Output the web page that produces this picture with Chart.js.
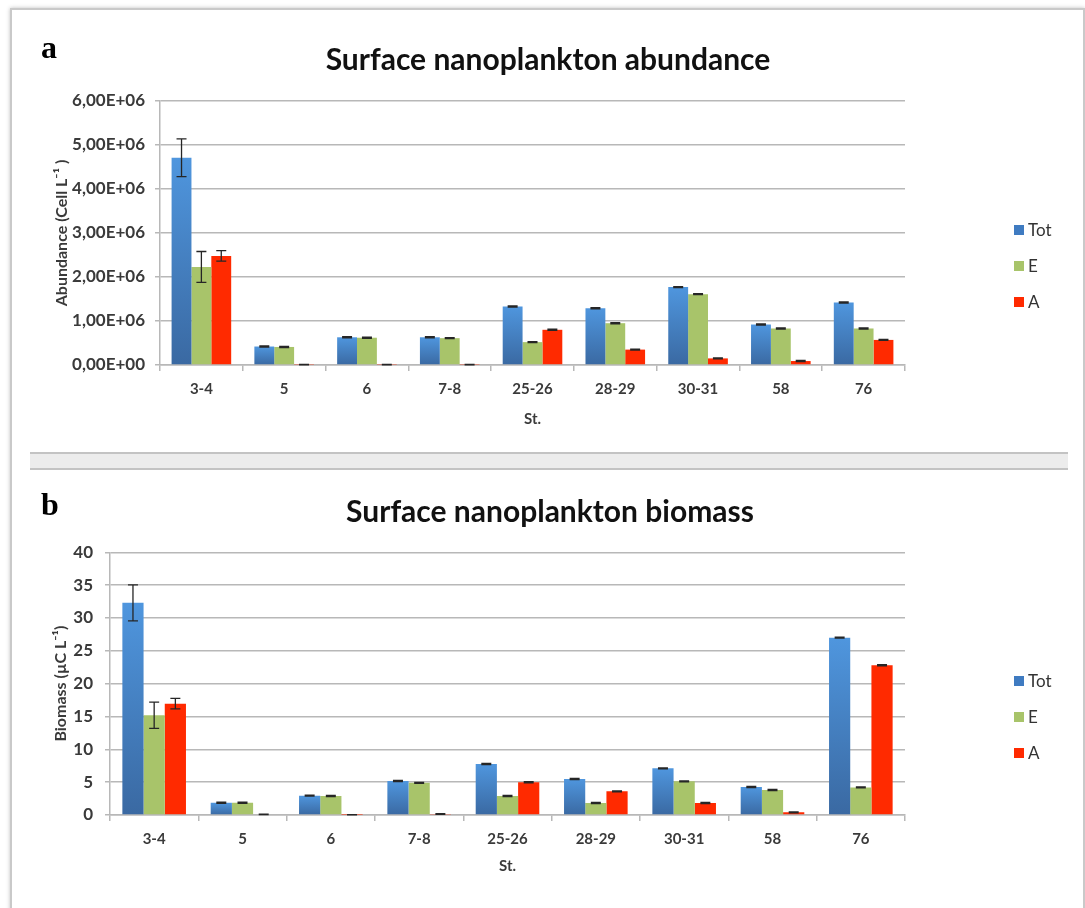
<!DOCTYPE html>
<html>
<head>
<meta charset="utf-8">
<script src="https://cdn.jsdelivr.net/npm/chart.js@4.4.0/dist/chart.umd.min.js"></script>
<style>
  body { margin: 0; width: 1085px; height: 908px; overflow: hidden; position: relative; background: #fff; }
  #frame { position: absolute; left: 10px; top: 8px; width: 1071px; height: 930px; border: 2px solid #c9c9c9; box-shadow: 0 0 4px rgba(0,0,0,0.25); }
  #sep { position: absolute; left: 30px; top: 452px; width: 1038px; height: 14px; background: #ececec; border-top: 2px solid #c3c3c3; border-bottom: 2px solid #c3c3c3; }
  .tag { position: absolute; left: 41px; font: bold 32px "Liberation Serif", serif; line-height: 32px; color: #000; }
  .wrap { position: absolute; left: 0; width: 1085px; }
</style>
</head>
<body>
<div id="frame"></div>
<div id="sep"></div>
<div class="wrap" style="top:0;height:450px"><canvas id="abundance"></canvas></div>
<div class="wrap" style="top:470px;height:438px"><canvas id="biomass"></canvas></div>
<div class="tag" style="top:31px">a</div>
<div class="tag" style="top:488px">b</div>
<script>
// stations (x categories) and series names
const stations = ['3-4', '5', '6', '7-8', '25-26', '28-29', '30-31', '58', '76'];
const seriesNames = ['Tot', 'E', 'A'];

// a - abundance (cell/L)
const abTot = [4.71e6, 0.42e6, 0.63e6, 0.63e6, 1.33e6, 1.29e6, 1.77e6, 0.92e6, 1.42e6];
const abE   = [2.23e6, 0.41e6, 0.62e6, 0.61e6, 0.52e6, 0.95e6, 1.61e6, 0.83e6, 0.83e6];
const abA   = [2.48e6, 0.01e6, 0.01e6, 0.01e6, 0.80e6, 0.35e6, 0.15e6, 0.09e6, 0.57e6];
const abTotErr = [0.43e6, 0.012e6, 0.012e6, 0.012e6, 0.012e6, 0.012e6, 0.012e6, 0.012e6, 0.012e6];
const abEErr   = [0.35e6, 0.012e6, 0.012e6, 0.012e6, 0.012e6, 0.012e6, 0.012e6, 0.012e6, 0.012e6];
const abAErr   = [0.12e6, 0.005e6, 0.005e6, 0.005e6, 0.012e6, 0.012e6, 0.012e6, 0.012e6, 0.012e6];
const abTicks = ['0,00E+00', '1,00E+06', '2,00E+06', '3,00E+06', '4,00E+06', '5,00E+06', '6,00E+06'];

// b - biomass (µC/L)
const bmTot = [32.3, 1.87, 2.94, 5.17, 7.76, 5.48, 7.10, 4.26, 27.0];
const bmE   = [15.2, 1.87, 2.90, 4.90, 2.90, 1.83, 5.13, 3.80, 4.20];
const bmA   = [16.95, 0.10, 0.05, 0.15, 4.98, 3.60, 1.83, 0.40, 22.8];
const bmTotErr = [2.75, 0.08, 0.08, 0.08, 0.08, 0.08, 0.08, 0.08, 0.08];
const bmEErr   = [2.0, 0.08, 0.08, 0.08, 0.08, 0.08, 0.08, 0.08, 0.08];
const bmAErr   = [0.8, 0.04, 0.02, 0.04, 0.08, 0.08, 0.08, 0.08, 0.08];
const bmTicks = ['0', '5', '10', '15', '20', '25', '30', '35', '40'];

Chart.defaults.font.family = 'Lato, "Open Sans", sans-serif';
Chart.defaults.color = '#3a3a3a';

// blue bars get a light->dark vertical gradient, one per bar
function totFill(ctx) {
  const chart = ctx.chart;
  const y = chart.scales.y;
  if (!chart.chartArea || !y || ctx.type !== 'data') return '#4785cc';
  const top = y.getPixelForValue(ctx.raw);
  const bottom = y.getPixelForValue(0);
  if (!isFinite(top) || bottom - top < 2) return '#4785cc';
  const g = chart.ctx.createLinearGradient(0, top, 0, bottom);
  g.addColorStop(0, '#4f96de');
  g.addColorStop(1, '#3a69a2');
  return g;
}

// error bars from dataset.errors
const errorBars = {
  id: 'errorBars',
  afterDatasetsDraw(chart) {
    const c = chart.ctx, y = chart.scales.y;
    c.save();
    c.strokeStyle = '#262626';
    c.lineWidth = 1.3;
    chart.data.datasets.forEach((ds, i) => {
      chart.getDatasetMeta(i).data.forEach((bar, j) => {
        const v = ds.data[j], e = ds.errors[j];
        const y1 = y.getPixelForValue(v + e);
        const y2 = y.getPixelForValue(Math.max(v - e, 0));
        c.beginPath();
        c.moveTo(bar.x, y1); c.lineTo(bar.x, y2);
        c.moveTo(bar.x - 5, y1); c.lineTo(bar.x + 5, y1);
        c.moveTo(bar.x - 5, y2); c.lineTo(bar.x + 5, y2);
        c.stroke();
      });
    });
    c.restore();
  }
};

// legend to the right, Excel style
const sideLegend = {
  id: 'sideLegend',
  afterDraw(chart, args, opts) {
    const c = chart.ctx;
    c.save();
    c.font = '17px Lato, sans-serif';
    c.textBaseline = 'middle';
    chart.data.datasets.forEach((ds, i) => {
      const y = opts.y + i * 36;
      c.fillStyle = ds.swatch;
      c.fillRect(opts.x, y - 5, 10, 10);
      c.fillStyle = '#333';
      c.fillText(ds.label, opts.x + 14, y + 1);
    });
    c.restore();
  }
};

function makeDatasets(tot, e, a, totErr, eErr, aErr) {
  return [
    { label: seriesNames[0], data: tot, errors: totErr, backgroundColor: totFill, swatch: '#3f7bc1' },
    { label: seriesNames[1], data: e, errors: eErr, backgroundColor: '#a8c46a', swatch: '#a8c46a' },
    { label: seriesNames[2], data: a, errors: aErr, backgroundColor: '#ff2a00', swatch: '#ff2a00' }
  ];
}

function makeChart(id, o) {
  return new Chart(document.getElementById(id), {
    type: 'bar',
    data: { labels: stations, datasets: makeDatasets(...o.series) },
    plugins: [errorBars, sideLegend],
    options: {
      responsive: true,
      maintainAspectRatio: false,
      animation: false,
      layout: { padding: o.padding },
      datasets: { bar: { categoryPercentage: 0.72, barPercentage: 1, borderWidth: 0 } },
      plugins: {
        legend: { display: false },
        tooltip: { enabled: false },
        title: {
          display: true,
          text: o.title,
          color: '#111',
          font: { size: 30, weight: 'bold' },
          padding: o.titlePad
        },
        sideLegend: o.legend
      },
      scales: {
        x: {
          grid: { display: true, drawOnChartArea: false, drawTicks: true, tickLength: 6, color: '#b8b8b8', lineWidth: 1.5 },
          border: { display: true, color: '#b8b8b8', width: 1.5 },
          ticks: { font: { size: 15, weight: 'bold' }, padding: 9 },
          title: { display: true, text: 'St.', font: { size: 15, weight: 'bold' }, padding: { top: 0, bottom: o.xTitlePad } },
          afterFit: s => { s.height = 70; }
        },
        y: {
          min: 0, max: o.max,
          ticks: { stepSize: o.step, font: { size: 17, weight: 'bold' }, padding: o.yTickPad,
                   callback: (v, i) => o.ticks[i] },
          grid: { color: '#b8b8b8', lineWidth: 1.5, drawTicks: true, tickLength: 5 },
          border: { display: true, color: '#b8b8b8', width: 1.5 },
          title: { display: true, text: o.yTitle, font: { size: 16, weight: 'bold' }, padding: { top: o.yTitlePad, bottom: 0 } },
          afterFit: s => { s.width = o.yWidth; }
        },
        side: {
          position: 'right', display: true,
          ticks: { display: false }, grid: { display: false }, border: { display: false },
          afterFit: s => { s.width = o.sideWidth; }
        }
      }
    }
  });
}

makeChart('abundance', {
  series: [abTot, abE, abA, abTotErr, abEErr, abAErr],
  title: 'Surface nanoplankton abundance',
  titlePad: { top: 42, bottom: 23 },
  padding: { left: 20, right: 9, top: 0, bottom: 15 },
  max: 6e6, step: 1e6, ticks: abTicks,
  yTitle: 'Abundance (Cell L\u207B\u00B9 )',
  yWidth: 140, yTickPad: 10, yTitlePad: 32.1,
  xTitlePad: 7, sideWidth: 171,
  legend: { x: 1014, y: 230 }
});

makeChart('biomass', {
  series: [bmTot, bmE, bmA, bmTotErr, bmEErr, bmAErr],
  title: 'Surface nanoplankton biomass',
  titlePad: { top: 24, bottom: 22.3 },
  padding: { left: 20, right: 5, top: 0, bottom: 23 },
  max: 40, step: 5, ticks: bmTicks,
  yTitle: 'Biomass (\u00B5C L\u207B\u00B9)',
  yWidth: 90, yTickPad: 12, yTitlePad: 31.1,
  xTitlePad: 9.5, sideWidth: 175,
  legend: { x: 1014, y: 211 }
});
</script>
</body>
</html>
